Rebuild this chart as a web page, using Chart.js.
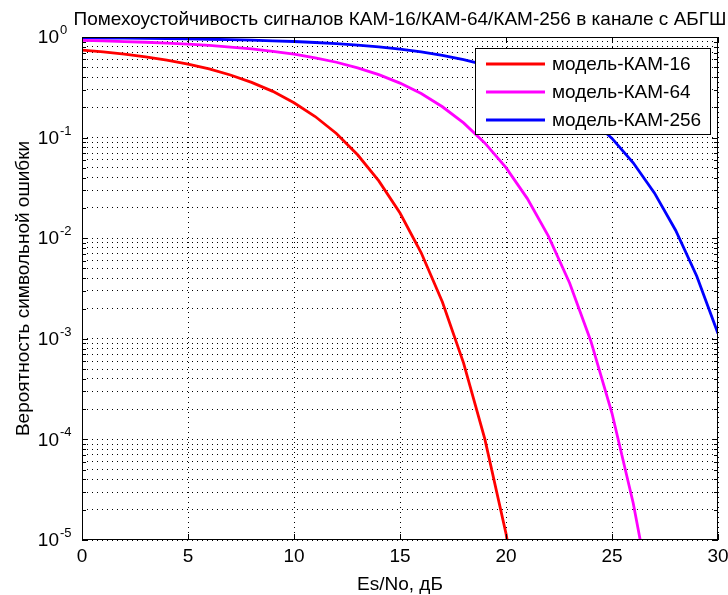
<!DOCTYPE html>
<html><head><meta charset="utf-8">
<script src="https://cdn.jsdelivr.net/npm/chart.js@4.4.1/dist/chart.umd.min.js"></script>
<style>html,body{margin:0;padding:0;background:#fff;}canvas{display:block;}</style>
</head><body>
<canvas id="c" width="728" height="595"></canvas>
<script>
// ---- data ----
const snrDb = [0,1,2,3,4,5,6,7,8,9,10,11,12,13,14,15,16,17,18,19,20,21,22,23,24,25,26,27,28,29,30];
const serQam16 = [0.741,0.710,0.676,0.635,0.589,0.538,0.481,0.419,0.354,0.288,0.222,0.162,0.110,0.0675,0.0371,0.0178,0.00716,0.00232,5.73e-4,1.01e-4,1.16e-5,7.8e-7];
const serQam64 = [0.924,0.914,0.901,0.887,0.869,0.849,0.824,0.795,0.761,0.721,0.674,0.621,0.561,0.494,0.423,0.348,0.274,0.2025,0.140,0.0885,0.0502,0.0249,0.0105,3.59e-3,9.52e-4,1.82e-4,2.33e-5,1.8e-6];
const serQam256 = [0.979,0.977,0.973,0.969,0.964,0.958,0.950,0.941,0.930,0.917,0.902,0.882,0.859,0.831,0.798,0.758,0.712,0.658,0.597,0.529,0.454,0.376,0.297,0.221,0.154,0.0981,0.0562,0.0282,0.0120,4.19e-3,1.13e-3];
const seriesLabels = ['модель-КАМ-16','модель-КАМ-64','модель-КАМ-256'];
const seriesColors = ['#ff0000','#ff00ff','#0000ff'];
const xTickValues = [0,5,10,15,20,25,30];
const yDecadeExponents = [-5,-4,-3,-2,-1,0];
const yMinorMultipliers = [2,3,4,5,6,7,8,9];
const titleText = 'Помехоустойчивость сигналов КАМ-16/КАМ-64/КАМ-256 в канале с АБГШ';
const xTitleText = 'Es/No, дБ';
const yTitleText = 'Вероятность символьной ошибки';

const FONT = '"Liberation Sans", Arial, Helvetica, sans-serif';
function toPoints(vals){ return vals.map((v,i)=>({x:snrDb[i], y:v})); }

// grid values for the log axis: decades plus minor 2..9
const yGridValues = [];
yDecadeExponents.forEach(e=>{
  yGridValues.push({value: Math.pow(10,e), major:true});
  if (e < 0) yMinorMultipliers.forEach(m=>yGridValues.push({value: m*Math.pow(10,e), major:false}));
});
yGridValues.sort((a,b)=>a.value-b.value);

function txt(ctx, s, x, y, size, align, baseline, rot){
  ctx.save();
  ctx.translate(x,y);
  if (rot) ctx.rotate(rot);
  ctx.font = size+'px '+FONT;
  ctx.fillStyle = '#000';
  ctx.textAlign = align; ctx.textBaseline = baseline;
  ctx.fillText(s,0,0);
  ctx.restore();
}

const decorPlugin = {
  id:'decor',
  beforeDraw(chart){
    const ctx = chart.ctx;
    ctx.save(); ctx.fillStyle='#fff'; ctx.fillRect(0,0,chart.width,chart.height); ctx.restore();
  },
  afterDatasetsDraw(chart){
    const ctx = chart.ctx, a = chart.chartArea;
    const xs = chart.scales.x, ys = chart.scales.y;
    ctx.save();
    ctx.strokeStyle = '#000'; ctx.lineWidth = 1;
    // box
    ctx.strokeRect(Math.round(a.left)+0.5, Math.round(a.top)+0.5, Math.round(a.right-a.left)-1, Math.round(a.bottom-a.top)-1);
    // inward ticks
    ctx.beginPath();
    xs.ticks.forEach(t=>{
      const px = Math.round(xs.getPixelForValue(t.value))+0.5;
      ctx.moveTo(px, a.bottom); ctx.lineTo(px, a.bottom-6);
      ctx.moveTo(px, a.top); ctx.lineTo(px, a.top+6);
    });
    ys.ticks.forEach(t=>{
      const py = Math.round(ys.getPixelForValue(t.value))+0.5;
      const L = t.major ? 6 : 4;
      ctx.moveTo(a.left, py); ctx.lineTo(a.left+L, py);
      ctx.moveTo(a.right, py); ctx.lineTo(a.right-L, py);
    });
    ctx.stroke();
    ctx.restore();

    // y tick labels 10^e
    yDecadeExponents.forEach(e=>{
      const py = ys.getPixelForValue(Math.pow(10,e));
      txt(ctx,'10', a.left-23, py+1, 19, 'right', 'middle');
      txt(ctx, String(e), a.left-22, py-3, 13, 'left', 'alphabetic');
    });
    // titles
    txt(ctx, titleText, (a.left+a.right)/2, 25, 19, 'center', 'alphabetic');
    txt(ctx, xTitleText, (a.left+a.right)/2, 590, 19, 'center', 'alphabetic');
    txt(ctx, yTitleText, 29, (a.top+a.bottom)/2, 19, 'center', 'alphabetic', -Math.PI/2);

    // legend
    const lx = 475, ly = 48, lw = 236, lh = 87;
    ctx.save();
    ctx.fillStyle = '#fff';
    ctx.fillRect(lx, ly, lw, lh);
    ctx.strokeStyle = '#000'; ctx.lineWidth = 1;
    ctx.strokeRect(lx+0.5, ly+0.5, lw-1, lh-1);
    chart.data.datasets.forEach((ds,i)=>{
      const ry = ly + 16 + i*28;
      ctx.strokeStyle = ds.borderColor; ctx.lineWidth = 2.8;
      ctx.beginPath(); ctx.moveTo(lx+11, ry); ctx.lineTo(lx+70, ry); ctx.stroke();
      txt(ctx, ds.label, lx+77, ry+1, 19, 'left', 'middle');
    });
    ctx.restore();
  }
};

Chart.defaults.font.family = FONT;
Chart.defaults.color = '#000';

new Chart(document.getElementById('c'), {
  type:'line',
  data:{
    datasets:[
      {label:seriesLabels[0], data:toPoints(serQam16), borderColor:seriesColors[0], borderWidth:2.8, pointRadius:0, fill:false, tension:0},
      {label:seriesLabels[1], data:toPoints(serQam64), borderColor:seriesColors[1], borderWidth:2.8, pointRadius:0, fill:false, tension:0},
      {label:seriesLabels[2], data:toPoints(serQam256), borderColor:seriesColors[2], borderWidth:2.8, pointRadius:0, fill:false, tension:0}
    ]
  },
  options:{
    responsive:false, animation:false, devicePixelRatio:1,
    layout:{padding:{left:0,right:10,top:37,bottom:0}},
    plugins:{legend:{display:false}, title:{display:false}, tooltip:{enabled:false}},
    scales:{
      x:{
        type:'linear', min:0, max:30,
        afterBuildTicks(s){ s.ticks = xTickValues.map(v=>({value:v})); },
        ticks:{font:{size:19, family:FONT}, color:'#000', padding:5, maxRotation:0, autoSkip:false},
        grid:{color:'#000', lineWidth:1, drawTicks:false},
        border:{display:false, dash:[1,4]},
        afterFit(s){ s.height = 55; s.paddingLeft = 0; s.paddingRight = 0; }
      },
      y:{
        type:'logarithmic', min:1e-5, max:1,
        afterBuildTicks(s){ s.ticks = yGridValues.map(t=>({value:t.value, major:t.major})); },
        ticks:{display:false},
        grid:{color:'#000', lineWidth:1, drawTicks:false},
        border:{display:false, dash:[1,4]},
        afterFit(s){ s.width = 82; s.paddingTop = 0; s.paddingBottom = 0; }
      }
    }
  },
  plugins:[decorPlugin]
});
</script>
</body></html>
